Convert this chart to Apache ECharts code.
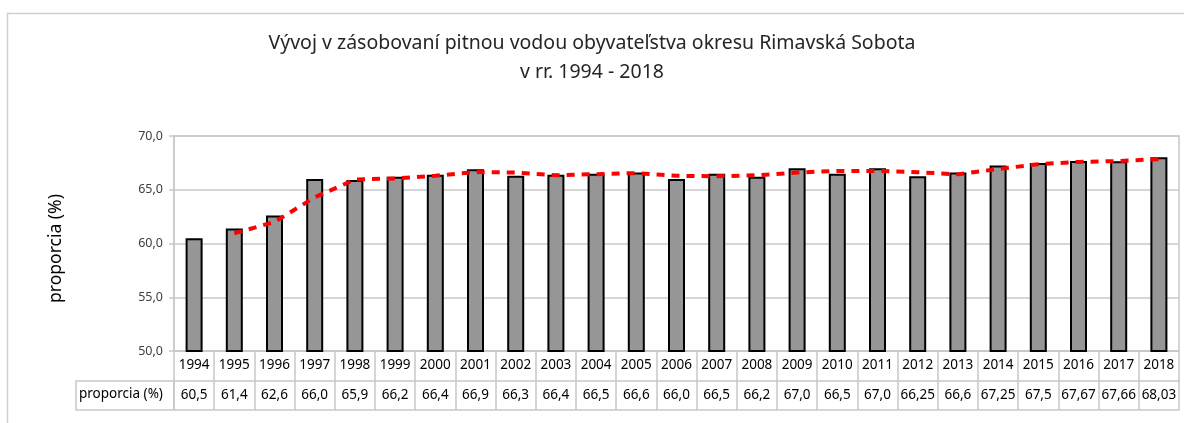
<!DOCTYPE html>
<html>
<head>
<meta charset="utf-8">
<script src="https://cdn.jsdelivr.net/npm/echarts@6/dist/echarts.min.js"></script>
<style>
  html, body { margin: 0; padding: 0; background: #fff; }
  #chart { width: 1184px; height: 423px; }
</style>
</head>
<body>
<div id="chart"></div>
<script>
// roky a hodnoty (proporcia v %)
var years = ['1994', '1995', '1996', '1997', '1998', '1999', '2000', '2001', '2002', '2003', '2004', '2005', '2006',
  '2007', '2008', '2009', '2010', '2011', '2012', '2013', '2014', '2015', '2016', '2017', '2018']
var proporcia = [60.5, 61.4, 62.6, 66.0, 65.9, 66.2, 66.4, 66.9, 66.3, 66.4, 66.5, 66.6, 66.0,
  66.5, 66.2, 67.0, 66.5, 67.0, 66.25, 66.6, 67.25, 67.5, 67.67, 67.66, 68.03]
// cervena preruzovana ciara (klzavy priemer odcitany z grafu)
var trend = ['-', 60.95, 62.0, 64.3, 65.95, 66.05, 66.3, 66.65, 66.6, 66.35, 66.45, 66.55, 66.3,
  66.25, 66.35, 66.6, 66.75, 66.75, 66.63, 66.43, 66.93, 67.38, 67.59, 67.67, 67.85]
var yTicks = [50, 55, 60, 65, 70]

var font = 'Noto Sans'
var gridGray = '#c8c8c8'

function fmt(v) {
  var s = String(v)
  if (s.indexOf('.') === -1) s += '.0'
  return s.replace('.', ',')
}
var valueLabels = proporcia.map(fmt)

var titleStyle = {
  color: '#262626',
  fontFamily: font,
  fontWeight: 'normal',
  fontSize: 19.5
}

var myChart = echarts.init(document.getElementById('chart'))
var option = {
  animation: false,
  backgroundColor: '#fff',
  title: [
    {
      text: 'Vývoj v zásobovaní pitnou vodou obyvateľstva okresu Rimavská Sobota',
      left: 'center',
      top: 33,
      padding: 0,
      textStyle: titleStyle
    },
    {
      text: 'v rr. 1994 - 2018',
      left: 'center',
      top: 62,
      padding: 0,
      textStyle: titleStyle
    }
  ],
  grid: {
    left: 174,
    right: 5,
    top: 136,
    bottom: 72,
    containLabel: false,
    outerBoundsMode: 'none',
    show: true,
    borderColor: gridGray,
    borderWidth: 1.5
  },
  xAxis: [
    {
      type: 'category',
      data: years,
      position: 'bottom',
      axisLine: { show: true, lineStyle: { color: gridGray, width: 1.5 } },
      axisTick: { show: true, interval: 0, length: 59, lineStyle: { color: gridGray, width: 1.5 } },
      axisLabel: { interval: 0, margin: 7, color: '#000', fontFamily: font, fontSize: 13.5 },
      splitLine: { show: false }
    },
    {
      type: 'category',
      data: valueLabels,
      position: 'bottom',
      offset: 30,
      axisLine: { show: true, lineStyle: { color: gridGray, width: 1.5 } },
      axisTick: { show: false },
      axisLabel: { interval: 0, margin: 7, color: '#000', fontFamily: font, fontSize: 13.5 },
      splitLine: { show: false }
    },
    {
      type: 'category',
      data: years,
      position: 'bottom',
      offset: 59,
      axisLine: { show: true, lineStyle: { color: gridGray, width: 1.5 } },
      axisTick: { show: false },
      axisLabel: { show: false },
      splitLine: { show: false }
    }
  ],
  yAxis: {
    type: 'value',
    min: yTicks[0],
    max: yTicks[yTicks.length - 1],
    interval: 5,
    name: 'proporcia (%)',
    nameLocation: 'middle',
    nameGap: 109,
    nameTextStyle: { color: '#000', fontFamily: font, fontSize: 17.5, padding: [0, 0, 0, -10] },
    axisLine: { show: true, lineStyle: { color: gridGray, width: 1.5 } },
    axisTick: { show: true, length: 5, lineStyle: { color: gridGray, width: 1.5 } },
    axisLabel: {
      margin: 11,
      color: '#404040',
      fontFamily: font,
      fontSize: 12.5,
      formatter: function(v) { return v.toFixed(1).replace('.', ',') }
    },
    splitLine: { show: true, lineStyle: { color: gridGray, width: 1.5 } }
  },
  series: [
    {
      name: 'proporcia (%)',
      type: 'bar',
      xAxisIndex: 0,
      data: proporcia,
      barWidth: 17,
      itemStyle: { color: '#969696', borderColor: '#000', borderWidth: 2 }
    },
    {
      name: 'trend',
      type: 'line',
      xAxisIndex: 0,
      data: trend,
      symbol: 'none',
      smooth: false,
      lineStyle: { color: '#ff0000', width: 4, type: [8, 7] },
      z: 5
    }
  ],
  graphic: [
    {
      // ram celeho grafu
      type: 'rect',
      shape: { x: 7.5, y: 13.5, width: 1200, height: 440 },
      style: { fill: 'none', stroke: '#d0d0d0', lineWidth: 1.5 },
      silent: true
    },
    {
      // hlavicka riadku tabulky
      type: 'rect',
      shape: { x: 76, y: 381, width: 98, height: 29 },
      style: { fill: 'none', stroke: gridGray, lineWidth: 1.5 },
      silent: true
    },
    {
      type: 'text',
      left: 79,
      top: 387,
      style: { text: 'proporcia (%)', fill: '#000', font: '13.5px "Noto Sans"' },
      silent: true
    }
  ]
}
myChart.setOption(option)
</script>
</body>
</html>
